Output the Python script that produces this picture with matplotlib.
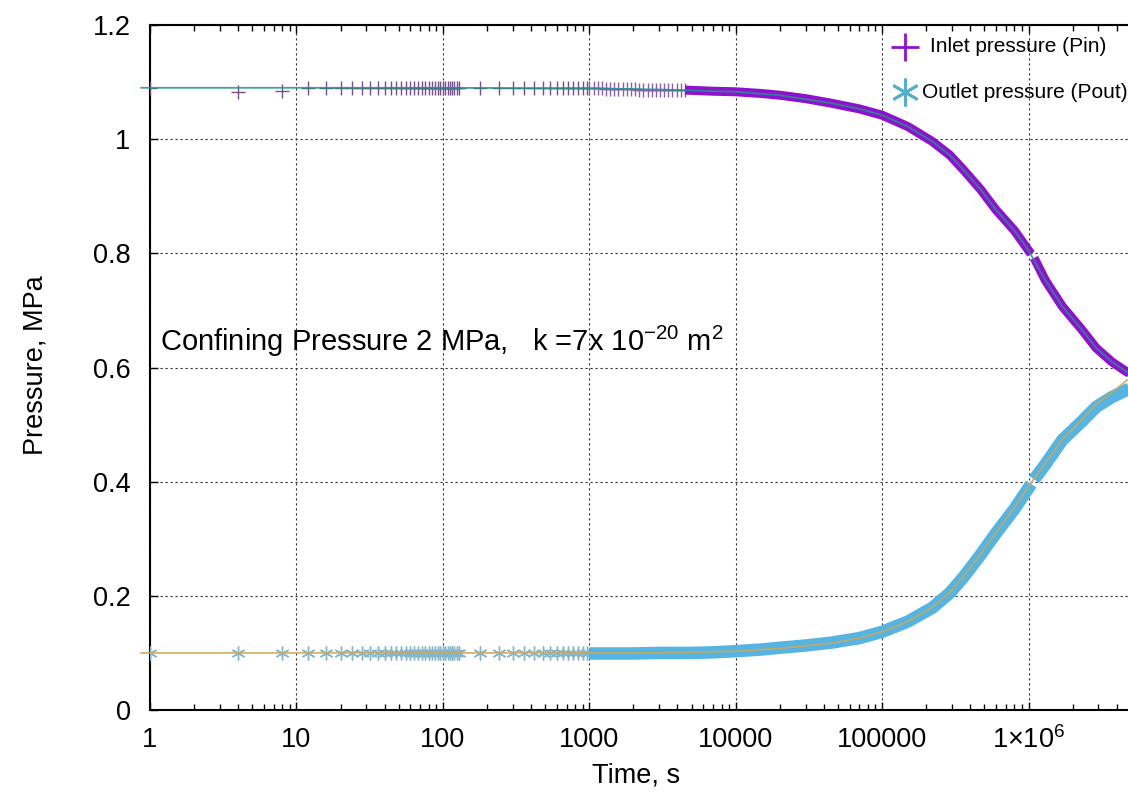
import matplotlib
matplotlib.use("Agg")
import matplotlib.pyplot as plt
from matplotlib.lines import Line2D
from matplotlib.ticker import FixedLocator, FixedFormatter, LogLocator, NullFormatter

plt.rcParams['font.family'] = ['Liberation Sans', 'DejaVu Sans']
plt.rcParams['mathtext.default'] = 'regular'

nan = float('nan')

# early samples (every 4 s, then every minute)
t_early = [1, 4, 8, 12, 16, 20, 24, 28, 32, 36, 40, 44, 48, 52, 56, 60,
           64, 68, 72, 76, 80, 84, 88, 92, 96, 100, 104, 108, 112, 116, 120,
           124, 128, 180, 240, 300, 360, 420, 480, 540, 600, 660, 720, 780,
           840, 900, 960]
pin_early = [1.09, 1.083, 1.085, 1.089, 1.09, 1.09, 1.09, 1.09, 1.09, 1.09,
             1.09, 1.09, 1.09, 1.09, 1.09, 1.09, 1.09, 1.09, 1.09, 1.09,
             1.09, 1.09, 1.09, 1.09, 1.09, 1.09, 1.09, 1.09, 1.09, 1.09,
             1.09, 1.09, 1.09, 1.09, 1.09, 1.09, 1.09, 1.09, 1.09, 1.09,
             1.09, 1.09, 1.09, 1.09, 1.09, 1.09, 1.09]
pout_early = [0.1, 0.1, 0.1, 0.1, 0.1, 0.1, 0.1, 0.1, 0.1, 0.1,
              0.1, 0.1, 0.1, 0.1, 0.1, 0.1, 0.1, 0.1, 0.1, 0.1,
              0.1, 0.1, 0.1, 0.1, 0.1, 0.1, 0.1, 0.1, 0.1, 0.1,
              0.1, 0.1, 0.1, 0.1, 0.1, 0.1, 0.1, 0.1, 0.1, 0.1,
              0.1, 0.1, 0.1, 0.1, 0.1, 0.1, 0.1]

# inlet samples 1000-4500 s (still resolvable as single marks)
t_mid = [1000, 1070, 1140, 1220, 1300, 1390, 1480, 1580, 1690, 1800, 1920,
         2050, 2190, 2340, 2500, 2670, 2850, 3040, 3250, 3470, 3700, 3950,
         4220, 4500]
pin_mid = [1.089, 1.089, 1.089, 1.089, 1.088, 1.088, 1.088, 1.088, 1.088,
           1.088, 1.088, 1.088, 1.087, 1.087, 1.087, 1.087, 1.087, 1.087,
           1.086, 1.086, 1.086, 1.086, 1.086, 1.086]

# dense samples, merge into a band
t_band_in = [4500, 7000, 10000, 15000, 20000, 30000, 45000, 70000, 100000,
             150000, 220000, 290000, 360000, 470000, 600000, 800000, 1000000,
             1040000, 1060000, 1090000, 1300000, 1700000, 2300000, 2900000,
             3700000, 4700000, 6000000]
pin_band = [1.086, 1.084, 1.083, 1.080, 1.077, 1.071, 1.063, 1.053, 1.042,
            1.022, 0.996, 0.972, 0.946, 0.912, 0.876, 0.840, 0.805, 0.799,
            nan, 0.792, 0.753, 0.707, 0.667, 0.634, 0.610, 0.592, 0.580]

t_band_out = [1000, 2000, 3000, 5000, 7000, 10000, 15000, 20000, 30000,
              45000, 70000, 100000, 150000, 220000, 290000, 360000, 470000,
              600000, 800000, 1000000, 1040000, 1060000, 1090000, 1300000,
              1700000, 2300000, 2900000, 3700000, 4700000, 6000000]
pout_band = [0.099, 0.099, 0.1, 0.1, 0.101, 0.103, 0.106, 0.109, 0.113,
             0.118, 0.126, 0.137, 0.155, 0.179, 0.205, 0.233, 0.272, 0.310,
             0.352, 0.389, 0.396, nan, 0.404, 0.430, 0.473, 0.505, 0.531,
             0.548, 0.561, 0.570]

# fitted model curves
t_fit = [0.87, 10, 100, 1000, 3000, 10000, 20000, 45000, 70000, 100000,
         150000, 220000, 290000, 360000, 470000, 600000, 800000, 1000000,
         1300000, 1700000, 2300000, 2900000, 3700000, 4700000, 6000000]
pin_fit = [1.09, 1.09, 1.09, 1.089, 1.087, 1.083, 1.077, 1.063, 1.053, 1.042,
           1.022, 0.996, 0.972, 0.946, 0.912, 0.876, 0.840, 0.805, 0.753,
           0.707, 0.667, 0.634, 0.610, 0.592, 0.578]
pout_fit = [0.1, 0.1, 0.1, 0.1, 0.1, 0.103, 0.108, 0.117, 0.126, 0.137,
            0.155, 0.180, 0.206, 0.234, 0.273, 0.311, 0.354, 0.392, 0.432,
            0.474, 0.508, 0.536, 0.556, 0.578, 0.592]

xticks = [1, 10, 100, 1000, 10000, 100000, 1000000, 10000000]
xticklabels = ['1', '10', '100', '1000', '10000', '100000',
               '1\u00d710$^{6}$', '']
yticks = [0, 0.2, 0.4, 0.6, 0.8, 1.0, 1.2]
yticklabels = ['0', '0.2', '0.4', '0.6', '0.8', '1', '1.2']

c_in = '#9010d0'
c_out = '#56b4e2'
c_in_fit = '#23908c'
c_out_fit = '#c9a957'
ast = (6, 2, 0)

W, H = 1128, 793
fig = plt.figure(figsize=(W / 100, H / 100), dpi=100)
ax = fig.add_axes([150 / W, 83 / H, 1025 / W, 685 / H])
ax.set_xscale('log')

# measured data
ax.plot(t_early, pin_early, linestyle='none', marker='+', ms=10, mew=1.0,
        color='#74508a', zorder=3)
ax.plot(t_mid, pin_mid, linestyle='none', marker='+', ms=10, mew=1.0,
        color='#8a60a8', zorder=3)
ax.plot(t_band_in, pin_band, color=c_in, lw=6.5, solid_capstyle='butt', zorder=3)
ax.plot(t_early, pout_early, linestyle='none', marker=ast, ms=10, mew=1.0,
        color='#86b6cc', zorder=3)
ax.plot(t_band_out, pout_band, color=c_out, lw=9, solid_capstyle='butt', zorder=3)

# fits
ax.plot(t_fit, pin_fit, color=c_in_fit, lw=1.3, alpha=0.85, zorder=4, clip_on=False)
ax.plot(t_fit, pout_fit, color=c_out_fit, lw=1.3, alpha=0.85, zorder=4, clip_on=False)

ax.set_xlim(1, 1e7)
ax.set_ylim(0, 1.2)

ax.xaxis.set_major_locator(FixedLocator(xticks))
ax.xaxis.set_major_formatter(FixedFormatter(xticklabels))
ax.xaxis.set_minor_locator(LogLocator(base=10, subs=[2, 3, 4, 5, 6, 7, 8, 9], numticks=20))
ax.xaxis.set_minor_formatter(NullFormatter())
ax.yaxis.set_major_locator(FixedLocator(yticks))
ax.yaxis.set_major_formatter(FixedFormatter(yticklabels))

ax.tick_params(axis='both', which='both', direction='in', top=True, right=True,
               labelsize=19.5, colors='black')
ax.tick_params(axis='both', which='major', length=6, width=1.0)
ax.tick_params(axis='both', which='minor', length=4, width=1.0)
ax.tick_params(axis='x', which='major', pad=12)
ax.tick_params(axis='y', which='major', pad=14)

ax.grid(True, which='major', color='#333333', lw=0.8, linestyle=(0, (2, 2.5)))
for s in ax.spines.values():
    s.set_linewidth(1.5)
    s.set_color('black')

ax.set_xlabel('Time, s', fontsize=19.5)
ax.xaxis.set_label_coords((636 - 150) / 1025, -53 / 685)
ax.set_ylabel('Pressure, MPa', fontsize=19.5)
ax.yaxis.set_label_coords((48 - 150) / 1025, 0.504)

ax.text(1.17, 0.645, 'Confining Pressure 2 MPa,   k =7x 10$^{-20}$ m$^{2}$',
        fontsize=21, va='center', ha='left')

# key, drawn by hand like the gnuplot one
key_rows = [
    ('Inlet pressure (Pin)', '+', c_in, 47, 930),
    ('Outlet pressure (Pout)', ast, '#4fb0d0', 92, 922),
]
for label, mk, col, ypx, xtxt in key_rows:
    fig.add_artist(Line2D([905 / W], [1 - ypx / H], linestyle='none', marker=mk,
                          ms=20, mew=2.0, color=col, transform=fig.transFigure))
    fig.text(xtxt / W, 1 - ypx / H, label, fontsize=15, va='center', ha='left')

fig.savefig('out.png', dpi=100)
